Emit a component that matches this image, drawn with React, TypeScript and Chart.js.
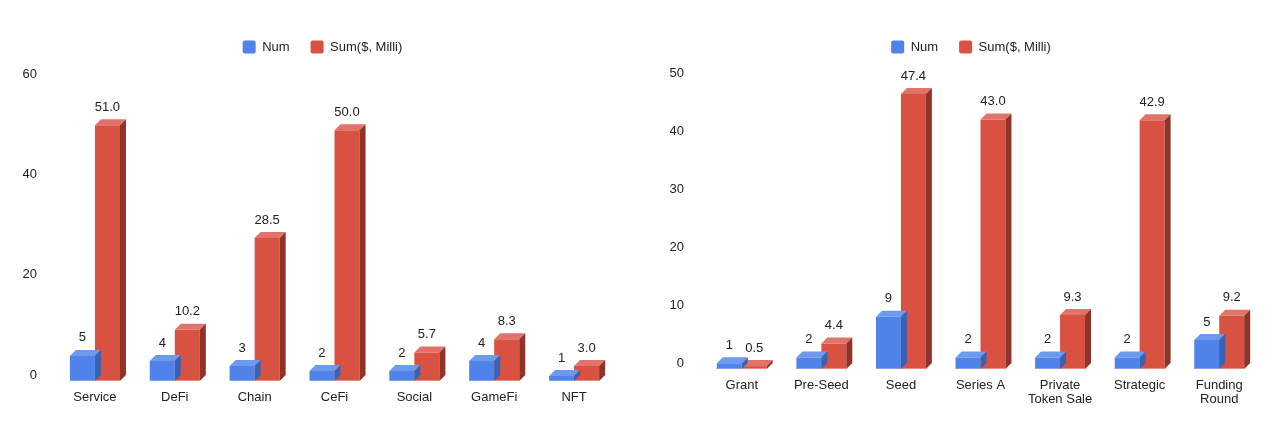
import { useEffect, useRef } from "react"
import { Chart, registerables } from "chart.js"

Chart.register(...registerables)

// left panel: deals by sector
const sectorLabels = ["Service", "DeFi", "Chain", "CeFi", "Social", "GameFi", "NFT"]
const sectorNum = [5, 4, 3, 2, 2, 4, 1]
const sectorSum = [51.0, 10.2, 28.5, 50.0, 5.7, 8.3, 3.0]
const sectorTicks = [0, 20, 40, 60]

// right panel: deals by round
const roundLabels = ["Grant", "Pre-Seed", "Seed", "Series A", ["Private", "Token Sale"], "Strategic", ["Funding", "Round"]]
const roundNum = [1, 2, 9, 2, 2, 2, 5]
const roundSum = [0.5, 4.4, 47.4, 43.0, 9.3, 42.9, 9.2]
const roundTicks = [0, 10, 20, 30, 40, 50]

const seriesNames = ["Num", "Sum($, Milli)"]

const FONT = "Arial, 'Liberation Sans', sans-serif"
const TEXT = "#222222"
const DEPTH_X = 6
const DEPTH_Y = 6

const faces = [
  { front: "#4f83ea", top: "#6d99ef", side: "#3a62b4", edge: "#7fa6f0" },
  { front: "#d95141", top: "#e2736a", side: "#8e3328", edge: "#ea8a80" },
]

// fake 3D: top + side faces drawn off each bar element
const depthPlugin = {
  id: "depth",
  afterDatasetDraw(chart: any, args: any) {
    const ctx = chart.ctx
    const c = faces[args.index]
    ctx.save()
    args.meta.data.forEach((bar: any) => {
      const { x, y, base, width } = bar.getProps(["x", "y", "base", "width"], true)
      const l = x - width / 2
      const r = x + width / 2
      ctx.fillStyle = c.top
      ctx.beginPath()
      ctx.moveTo(l, y)
      ctx.lineTo(r, y)
      ctx.lineTo(r + DEPTH_X, y - DEPTH_Y)
      ctx.lineTo(l + DEPTH_X, y - DEPTH_Y)
      ctx.closePath()
      ctx.fill()
      ctx.fillStyle = c.side
      ctx.beginPath()
      ctx.moveTo(r, y)
      ctx.lineTo(r + DEPTH_X, y - DEPTH_Y)
      ctx.lineTo(r + DEPTH_X, base - DEPTH_Y)
      ctx.lineTo(r, base)
      ctx.closePath()
      ctx.fill()
      ctx.fillStyle = c.edge
      ctx.fillRect(l, base - 1, width, 1)
    })
    ctx.restore()
  },
}

const valueLabels = {
  id: "valueLabels",
  afterDatasetsDraw(chart: any) {
    const ctx = chart.ctx
    ctx.save()
    ctx.font = `13px ${FONT}`
    ctx.fillStyle = TEXT
    ctx.textAlign = "center"
    ctx.textBaseline = "middle"
    chart.data.datasets.forEach((ds: any, i: number) => {
      chart.getDatasetMeta(i).data.forEach((bar: any, j: number) => {
        const v = ds.data[j]
        const txt = i === 0 ? String(v) : v.toFixed(1)
        ctx.fillText(txt, bar.x, bar.y - 18)
      })
    })
    ctx.restore()
  },
}

// extra room between legend and plot
function legendGap(gap: number) {
  return {
    id: "legendGap",
    beforeLayout(chart: any) {
      const legend = chart.legend
      if (!legend || legend._gapPatched) return
      const fit = legend.fit
      legend.fit = function () {
        fit.call(this)
        this.height += gap
      }
      legend._gapPatched = true
    },
  }
}

interface PanelProps {
  labels: (string | string[])[]
  num: number[]
  sum: number[]
  ticks: number[]
  left: number
  width: number
  axisWidth: number
  rightSpace: number
  padBottom: number
  gap: number
  lineHeight: number
}

function BarPanel(props: PanelProps) {
  const { labels, num, sum, ticks, left, width, axisWidth, rightSpace, padBottom, gap, lineHeight } = props
  const chartRef = useRef<HTMLCanvasElement>(null)
  const chartInstance = useRef<Chart | null>(null)

  useEffect(() => {
    if (!chartRef.current) return
    if (chartInstance.current) chartInstance.current.destroy()
    const ctx = chartRef.current.getContext("2d")
    if (!ctx) return

    chartInstance.current = new Chart(ctx, {
      type: "bar",
      data: {
        labels,
        datasets: [
          { label: seriesNames[0], data: num, backgroundColor: faces[0].front, borderWidth: 0 },
          { label: seriesNames[1], data: sum, backgroundColor: faces[1].front, borderWidth: 0 },
        ],
      },
      options: {
        responsive: true,
        maintainAspectRatio: false,
        animation: false,
        datasets: { bar: { categoryPercentage: 0.627, barPercentage: 1 } },
        layout: { padding: { top: 19.5, left: 0, right: 0, bottom: padBottom } },
        plugins: {
          legend: {
            position: "top",
            labels: {
              boxWidth: 13,
              boxHeight: 13,
              padding: 21,
              useBorderRadius: true,
              borderRadius: 2,
              color: TEXT,
              font: { family: FONT, size: 13 },
            },
          },
          tooltip: { enabled: false },
        },
        scales: {
          x: {
            grid: { display: false, drawTicks: false },
            border: { display: false },
            ticks: {
              color: TEXT,
              padding: 9,
              maxRotation: 0,
              autoSkip: false,
              font: { family: FONT, size: 13, lineHeight },
            },
          },
          y: {
            min: ticks[0],
            max: ticks[ticks.length - 1],
            grid: { display: false, drawTicks: false },
            border: { display: false },
            afterBuildTicks: (scale: any) => {
              scale.ticks = ticks.map((value) => ({ value }))
            },
            afterFit: (scale: any) => {
              scale.width = axisWidth
            },
            ticks: {
              color: TEXT,
              padding: 18,
              labelOffset: -6,
              font: { family: FONT, size: 13 },
            },
          },
          // empty right gutter, keeps room for the bar depth
          gutter: {
            type: "linear",
            position: "right",
            grid: { display: false, drawTicks: false },
            border: { display: false },
            ticks: { display: false },
            afterFit: (scale: any) => {
              scale.width = rightSpace
            },
          },
        },
      },
      plugins: [depthPlugin, valueLabels, legendGap(gap)],
    })

    return () => {
      if (chartInstance.current) chartInstance.current.destroy()
    }
  }, [])

  return (
    <div style={{ position: "absolute", left, top: 0, width, height: 427 }}>
      <canvas ref={chartRef} />
    </div>
  )
}

export default function App() {
  return (
    <div style={{ position: "absolute", left: 0, top: 0, width: 1280, height: 427, background: "#fff" }}>
      <BarPanel
        labels={sectorLabels}
        num={sectorNum}
        sum={sectorSum}
        ticks={sectorTicks}
        left={0}
        width={645}
        axisWidth={55}
        rightSpace={31}
        padBottom={12.4}
        gap={16.5}
        lineHeight={1.2}
      />
      <BarPanel
        labels={roundLabels}
        num={roundNum}
        sum={roundSum}
        ticks={roundTicks}
        left={662}
        width={618}
        axisWidth={40}
        rightSpace={21}
        padBottom={11.4}
        gap={15.5}
        lineHeight={1.1}
      />
    </div>
  )
}
